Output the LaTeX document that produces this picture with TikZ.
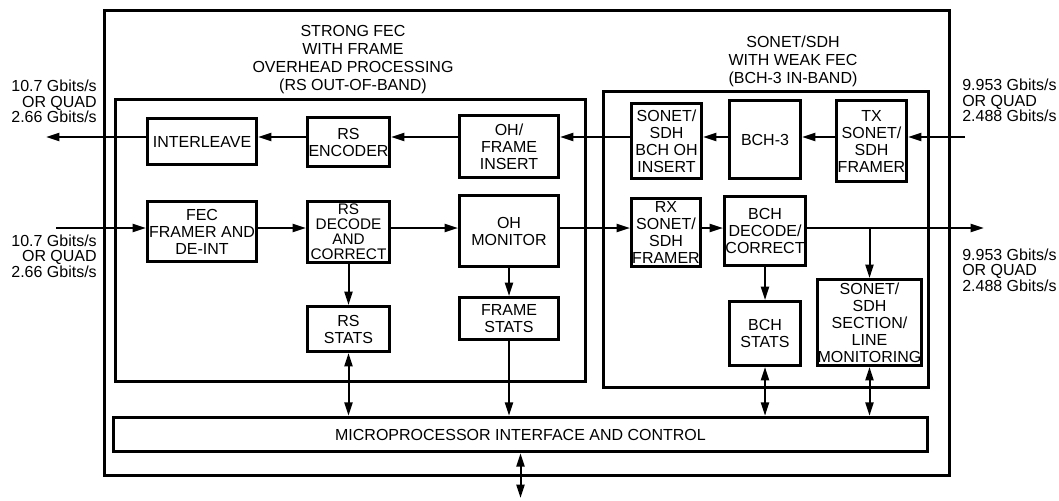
\documentclass[tikz,border=0pt]{standalone}
\usepackage{fontspec}
\setmainfont{Liberation Sans}
\usetikzlibrary{arrows.meta}

\begin{document}
\begin{tikzpicture}[
    x=0.75pt, y=-0.75pt,
    grp/.style 2 args={draw, line width=2.6pt, minimum width=#1*0.75pt,
                       minimum height=#2*0.75pt, inner sep=0pt},
    blk/.style 2 args={draw, line width=2.2pt, minimum width=#1*0.75pt,
                       minimum height=#2*0.75pt, inner sep=0pt, align=center,
                       font=\fontsize{12}{12.75}\selectfont},
    ttl/.style={inner sep=0pt, align=center, font=\fontsize{12}{13.5}\selectfont},
    rate/.style={inner sep=0pt, font=\fontsize{12}{11.6}\selectfont},
    sig/.style={line width=1.5pt, -{Triangle[length=10pt, width=6pt]}},
    bus/.style={line width=1.5pt,
                {Triangle[length=10pt, width=6pt]}-{Triangle[length=10pt, width=6pt]}}
]
\useasboundingbox (0,0) rectangle (1059,500);

% --- frames ---
\node[grp={845}{465}] (chip) at (527,243) {};
\node[grp={470}{282}] (strong) at (350.5,240.5) {};
\node[grp={325}{296}] (weak) at (766,239.5) {};
\node[grp={814}{34}, font=\fontsize{12}{13}\selectfont] (micro) at (520.5,434.5)
    {MICROPROCESSOR INTERFACE AND CONTROL};

\node[ttl] (ltitle) at (353,60) {STRONG FEC\\WITH FRAME\\OVERHEAD PROCESSING\\(RS OUT-OF-BAND)};
\node[ttl] (rtitle) at (793,61) {SONET/SDH\\WITH WEAK FEC\\(BCH-3 IN-BAND)};

% --- transmit path (top) ---
\node[blk={109}{46}] (ileave) at (202,141.5) {INTERLEAVE};
\node[blk={82}{49}] (rsenc) at (348.5,142) {RS\\ENCODER};
\node[blk={99}{62}] (ohins) at (509,146.5) {OH/\\FRAME\\INSERT};
\node[blk={70}{75}] (bchins) at (666.5,141) {SONET/\\SDH\\BCH OH\\INSERT};
\node[blk={71}{78}] (bch3) at (765,139.5) {BCH-3};
\node[blk={70}{81}] (txfr) at (871.5,141) {TX\\SONET/\\SDH\\FRAMER};

% --- receive path (middle) ---
\node[blk={109}{60}] (fecfr) at (202,231.5) {FEC\\FRAMER AND\\DE-INT};
\node[blk={82}{61}, font=\fontsize{11.5}{11.3}\selectfont] (rsdec) at (348.5,232)
    {RS\\DECODE\\AND\\CORRECT};
\node[blk={99}{71}] (ohmon) at (509,231) {OH\\MONITOR};
\node[blk={69}{68}] (rxfr) at (666,232.5) {RX\\SONET/\\SDH\\FRAMER};
\node[blk={81}{69}] (bchdec) at (765,231) {BCH\\DECODE/\\CORRECT};

% --- statistics (bottom) ---
\node[blk={82}{45}] (rsst) at (348.5,329) {RS\\STATS};
\node[blk={99}{42}] (frst) at (509,318.5) {FRAME\\STATS};
\node[blk={71}{64}] (bchst) at (765,333.5) {BCH\\STATS};
\node[blk={102}{86}] (mon) at (869.5,322.5) {SONET/\\SDH\\SECTION/\\LINE\\MONITORING};

% --- line rates ---
\node[rate, anchor=east, align=right] (txrate) at (97,101.5) {10.7 Gbits/s\\OR QUAD\\2.66 Gbits/s};
\node[rate, anchor=east, align=right] (rxrate) at (97,256) {10.7 Gbits/s\\OR QUAD\\2.66 Gbits/s};
\node[rate, anchor=west, align=left] (sdhin) at (962,100.5) {9.953 Gbits/s\\OR QUAD\\2.488 Gbits/s};
\node[rate, anchor=west, align=left] (sdhout) at (962,270) {9.953 Gbits/s\\OR QUAD\\2.488 Gbits/s};

\coordinate (tx) at (0,137);
\coordinate (rx) at (0,228);
\coordinate (txin) at (965,137);
\coordinate (txout) at (46,137);
\coordinate (rxin) at (56,228);
\coordinate (rxout) at (984,228);
\coordinate (host) at (520.5,498);

% transmit arrows
\draw[sig] (txin) -- (txfr.east |- tx);
\draw[sig] (txfr.west |- tx) -- (bch3.east |- tx);
\draw[sig] (bch3.west |- tx) -- (bchins.east |- tx);
\draw[sig] (bchins.west |- tx) -- (ohins.east |- tx);
\draw[sig] (ohins.west |- tx) -- (rsenc.east |- tx);
\draw[sig] (rsenc.west |- tx) -- (ileave.east |- tx);
\draw[sig] (ileave.west |- tx) -- (txout);

% receive arrows
\draw[sig] (rxin) -- (fecfr.west |- rx);
\draw[sig] (fecfr.east |- rx) -- (rsdec.west |- rx);
\draw[sig] (rsdec.east |- rx) -- (ohmon.west |- rx);
\draw[sig] (ohmon.east |- rx) -- (rxfr.west |- rx);
\draw[sig] (rxfr.east |- rx) -- (bchdec.west |- rx);
\draw[sig] (bchdec.east |- rx) -- (rxout);
\draw[sig] (mon.north |- rx) -- (mon.north);

% stats and control
\draw[sig] (rsdec.south) -- (rsst.north);
\draw[sig] (ohmon.south) -- (frst.north);
\draw[sig] (bchdec.south) -- (bchst.north);
\draw[sig] (frst.south) -- (frst.south |- micro.north);
\draw[bus] (rsst.south) -- (rsst.south |- micro.north);
\draw[bus] (bchst.south) -- (bchst.south |- micro.north);
\draw[bus] (mon.south) -- (mon.south |- micro.north);
\draw[bus] (micro.south) -- (host);

\end{tikzpicture}
\end{document}
